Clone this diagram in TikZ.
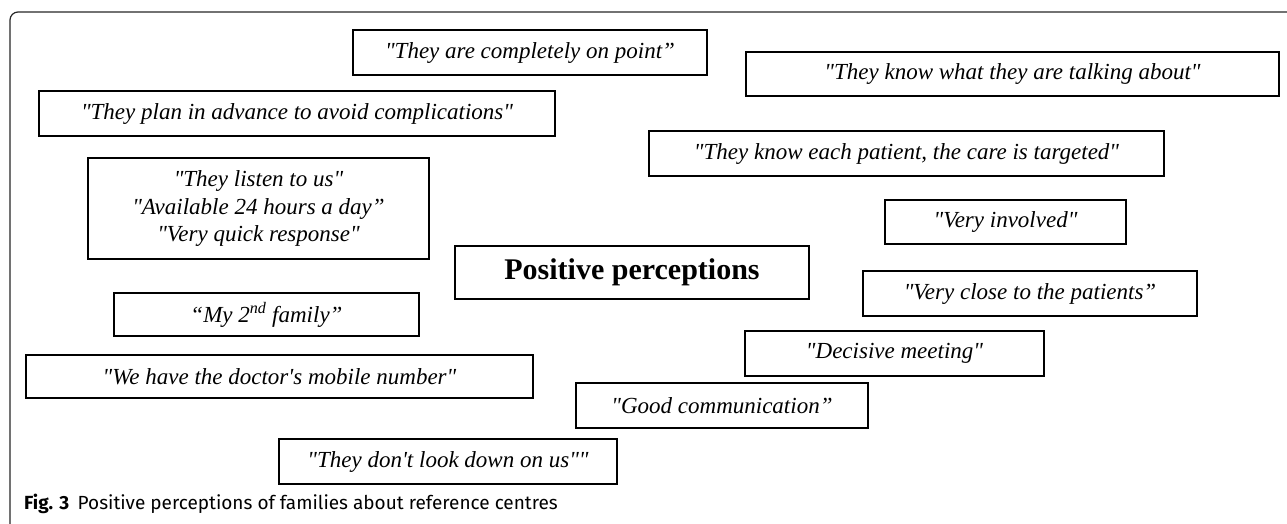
\documentclass[tikz,border=0pt]{standalone}
\usepackage{fontspec}
\setmainfont{Liberation Serif}[Ligatures=TeXOff]
\newfontfamily\capfont{Fira Sans}
\usepackage{tikz}

\begin{document}
\begin{tikzpicture}[x=1pt,y=-1pt,
	quote/.style={draw,line width=1.8pt,inner sep=0pt,align=center,
		font=\fontsize{23}{27.5}\selectfont\itshape},
	centre/.style={draw,line width=1.8pt,inner sep=0pt,
		font=\fontsize{30}{34}\selectfont\bfseries}]
	\useasboundingbox (0,0) rectangle (1287,523);
	\draw[black!85,line width=1.2pt,rounded corners=8pt] (10,540) -- (10,12) -- (1300,12);
	\node[centre,minimum width=354pt,minimum height=53pt] (pos) at (632,272.5) {Positive perceptions};
	\node[quote,minimum width=354pt,minimum height=45pt] (point) at (530,52.5) {"They are completely on point”};
	\node[quote,minimum width=533pt,minimum height=44pt] (talking) at (1012.5,74) {"They know what they are talking about"};
	\node[quote,minimum width=516pt,minimum height=45pt] (plan) at (297,113.5) {"They plan in advance to avoid complications"};
	\node[quote,minimum width=515pt,minimum height=45pt] (target) at (906.5,153.5) {"They know each patient, the care is targeted"};
	\node[quote,minimum width=341pt,minimum height=101pt] (listen) at (258.5,208.5) {"They listen to us"\\"Available 24 hours a day”\\"Very quick response"};
	\node[quote,minimum width=241pt,minimum height=44pt] (involved) at (1005.5,222) {"Very involved"};
	\node[quote,minimum width=334pt,minimum height=45pt] (close) at (1030,293.5) {"Very close to the patients”};
	\node[quote,minimum width=305pt,minimum height=43pt] (family) at (266.5,314.5) {“My 2\textsuperscript{nd} family”};
	\node[quote,minimum width=299pt,minimum height=45pt] (meeting) at (894.5,353.5) {"Decisive meeting"};
	\node[quote,minimum width=507pt,minimum height=43pt] (mobile) at (279.5,376.5) {"We have the doctor's mobile number"};
	\node[quote,minimum width=292pt,minimum height=45pt] (comm) at (722,405.5) {"Good communication”};
	\node[quote,minimum width=338pt,minimum height=45pt] (down) at (448,461.5) {"They don't look down on us""};
	\node[anchor=base west,inner sep=0pt,font=\capfont\fontsize{19}{22}\selectfont] (caption) at (24,509) {\textbf{Fig. 3}\hspace{0.45em}Positive perceptions of families about reference centres};
\end{tikzpicture}
\end{document}
